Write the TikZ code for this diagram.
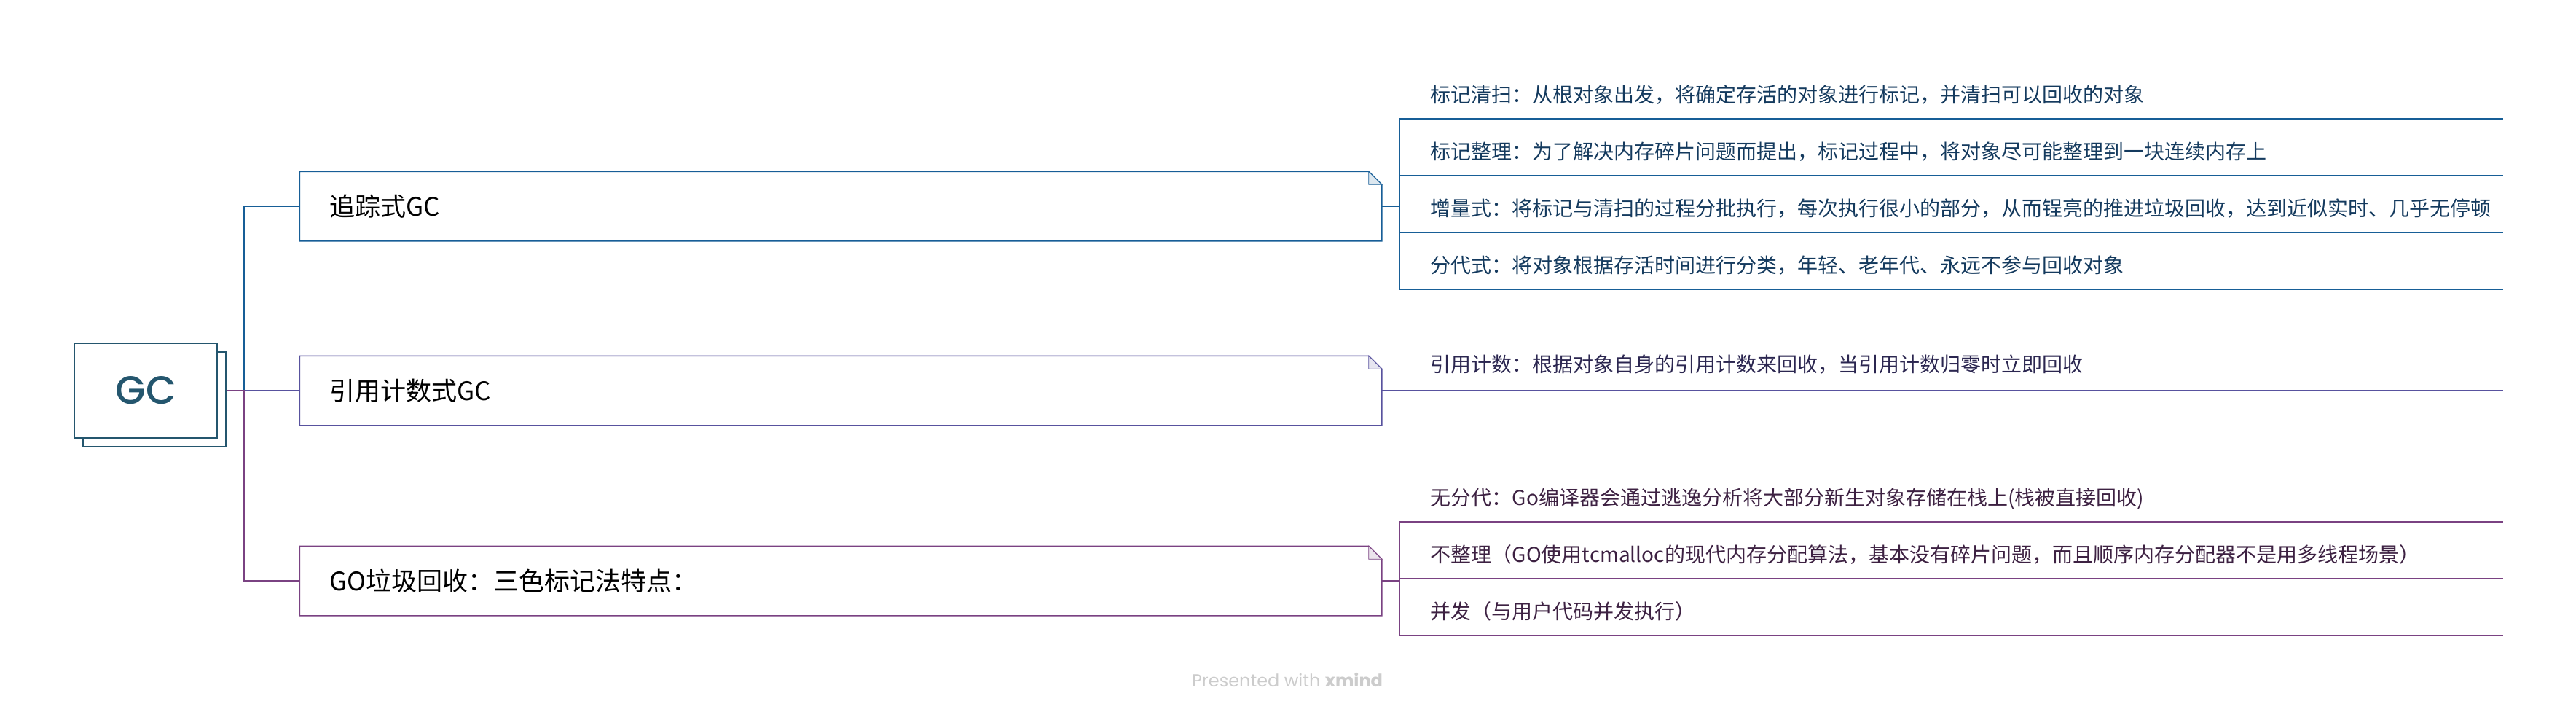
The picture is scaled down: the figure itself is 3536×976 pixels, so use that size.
\documentclass[tikz,border=0pt]{standalone}
\usepackage{fontspec}
\setmainfont{Noto Sans CJK SC}
\newfontfamily\popfont{Poppins}
\IfFontExistsTF{Poppins Medium}{\newfontfamily\rootfont{Poppins Medium}}{\newfontfamily\rootfont{Poppins}}
\usepackage{tikz}
\usetikzlibrary{calc}

\definecolor{rootcol}{HTML}{24566E}
\definecolor{tracecol}{HTML}{175E97}
\definecolor{refcol}{HTML}{58529E}
\definecolor{gocol}{HTML}{7A4282}
\definecolor{tracetext}{HTML}{143A5E}
\definecolor{reftext}{HTML}{2B2650}
\definecolor{gotext}{HTML}{3D2142}
\definecolor{markcol}{HTML}{CCCCCC}

\begin{document}
\begin{tikzpicture}[
            x=0.5pt, y=-0.5pt,
            line width=0.75pt,
            rootbox/.style={draw=rootcol, line width=0.85pt, fill=white, minimum width=98pt, minimum height=65pt, inner sep=0pt, text=rootcol, font=\rootfont\fontsize{27pt}{32pt}\selectfont},
            topic/.style={fill=white, text width=702pt, inner xsep=20pt, minimum height=47pt, align=left, font=\fontsize{17.5pt}{21pt}\selectfont},
            leaf/.style={anchor=west, text width=735.5pt, inner xsep=0pt, inner ysep=9.5pt, text height=0.88em, text depth=0.12em, align=left, font=\fontsize{14pt}{17pt}\selectfont}
        ]
            \useasboundingbox (0,0) rectangle (3536,976);
            \coordinate (rspine) at (335,0);
            \coordinate (tspine) at (1921,0);

            \node[rootbox] (rootcopy) at (212,548) {};
            \node[rootbox] (root) at (200,536) {GC};

            \node[topic] (trace) at (1154,283) {追踪式GC};
            \node[topic] (refc) at (1154,536) {引用计数式GC};
            \node[topic] (gogc) at (1154,797) {GO垃圾回收：三色标记法特点：};

            \node[leaf, text=tracetext] (trace1) at (1963,133) {标记清扫：从根对象出发，将确定存活的对象进行标记，并清扫可以回收的对象};
            \node[leaf, text=tracetext] (trace2) at (1963,211) {标记整理：为了解决内存碎片问题而提出，标记过程中，将对象尽可能整理到一块连续内存上};
            \node[leaf, text=tracetext] (trace3) at (1963,289) {增量式：将标记与清扫的过程分批执行，每次执行很小的部分，从而锃亮的推进垃圾回收，达到近似实时、几乎无停顿};
            \node[leaf, text=tracetext] (trace4) at (1963,367) {分代式：将对象根据存活时间进行分类，年轻、老年代、永远不参与回收对象};

            \node[leaf, text=reftext] (ref1) at (1963,503) {引用计数：根据对象自身的引用计数来回收，当引用计数归零时立即回收};

            \node[leaf, text=gotext] (go1) at (1963,686) {无分代：Go编译器会通过逃逸分析将大部分新生对象存储在栈上(栈被直接回收)};
            \node[leaf, text=gotext] (go2) at (1963,764) {不整理（GO使用tcmalloc的现代内存分配算法，基本没有碎片问题，而且顺序内存分配器不是用多线程场景）};
            \node[leaf, text=gotext] (go3) at (1963,842) {并发（与用户代码并发执行）};

            \foreach \t/\c in {trace/tracecol, refc/refcol, gogc/gocol} {
                \draw[draw=\c] (\t.south west) |- ($(\t.north east)+(-18,0)$) -- ($(\t.north east)+(0,18)$) -- (\t.south east) -- cycle;
                \draw[draw=\c, line width=0.4pt, fill=\c!15] ($(\t.north east)+(-18,0)$) |- ($(\t.north east)+(0,18)$) -- cycle;
            }

            \draw[tracecol] (rootcopy.east |- root.east) -| (rspine |- trace.west) -- (trace.west);
            \draw[refcol] (rootcopy.east |- root.east) -- (refc.west);
            \draw[gocol] (rootcopy.east |- root.east) -| (rspine |- gogc.west) -- (gogc.west);

            \draw[tracecol] (trace.east) -- (trace.east -| tspine);
            \draw[tracecol] (trace1.south -| tspine) -- (trace4.south -| tspine);
            \foreach \i in {1,...,4}
                \draw[tracecol] (trace\i.south -| tspine) -- (trace\i.south east);

            \draw[refcol] (refc.east) -- (refc.east -| tspine) -- (ref1.south east |- refc.east);

            \draw[gocol] (gogc.east) -- (gogc.east -| tspine);
            \draw[gocol] (go1.south -| tspine) -- (go3.south -| tspine);
            \foreach \i in {1,...,3}
                \draw[gocol] (go\i.south -| tspine) -- (go\i.south east);

            \node[text=markcol, font=\popfont\fontsize{12pt}{14pt}\selectfont] (mark) at (1767,933) {Presented with \textbf{xmind}};
        \end{tikzpicture}
\end{document}
